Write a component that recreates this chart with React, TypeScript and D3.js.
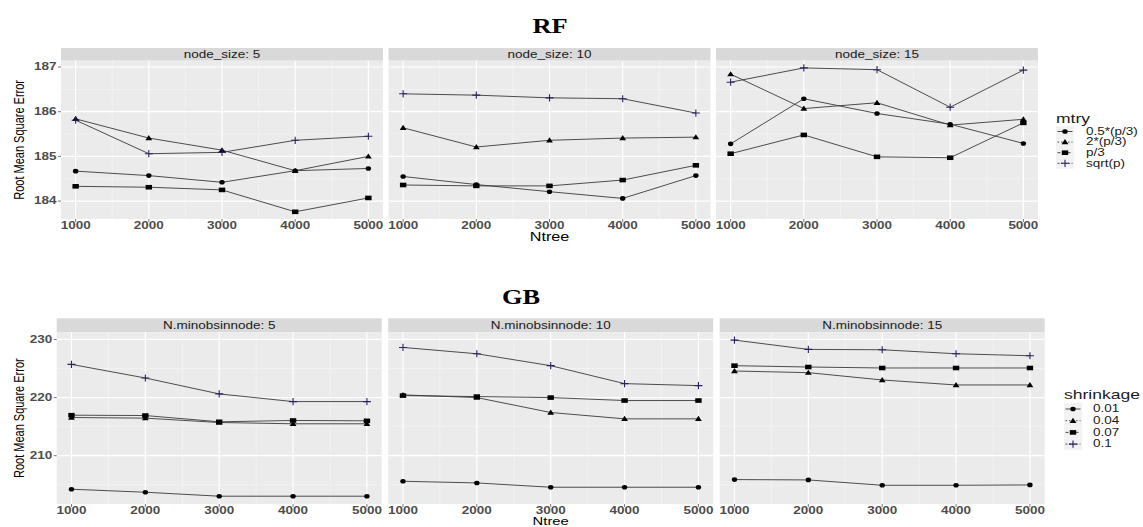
import * as d3 from 'd3';

// x values shared by all panels
const ntree = [1000, 2000, 3000, 4000, 5000];

// RF: rows follow mtry order
const rfMtry = ['0.5*(p/3)', '2*(p/3)', 'p/3', 'sqrt(p)'];
const rfNodeSizes = [5, 10, 15];
const rfNode5 = [
  [184.67, 184.57, 184.42, 184.68, 184.73],
  [185.84, 185.41, 185.14, 184.68, 185.0],
  [184.33, 184.31, 184.25, 183.76, 184.07],
  [185.81, 185.06, 185.09, 185.36, 185.45],
];
const rfNode10 = [
  [184.55, 184.37, 184.21, 184.06, 184.57],
  [185.64, 185.21, 185.36, 185.41, 185.43],
  [184.36, 184.34, 184.34, 184.47, 184.8],
  [186.4, 186.37, 186.31, 186.29, 185.97],
];
const rfNode15 = [
  [185.28, 186.29, 185.96, 185.72, 185.29],
  [186.84, 186.07, 186.2, 185.7, 185.83],
  [185.06, 185.48, 184.99, 184.97, 185.75],
  [186.66, 186.98, 186.94, 186.1, 186.93],
];
const rfYTicks = [184, 185, 186, 187];

// GB: rows follow shrinkage order
const gbShrinkage = ['0.01', '0.04', '0.07', '0.1'];
const gbMinObs = [5, 10, 15];
const gbNode5 = [
  [204.23, 203.71, 203.03, 203.03, 203.03],
  [216.57, 216.46, 215.71, 215.49, 215.49],
  [216.97, 216.91, 215.83, 216.06, 216.0],
  [225.71, 223.37, 220.63, 219.31, 219.31],
];
const gbNode10 = [
  [205.6, 205.31, 204.57, 204.57, 204.57],
  [220.46, 220.0, 217.43, 216.34, 216.34],
  [220.34, 220.17, 220.0, 219.49, 219.49],
  [228.63, 227.54, 225.49, 222.4, 222.06],
];
const gbNode15 = [
  [205.89, 205.83, 204.91, 204.91, 204.97],
  [224.57, 224.29, 223.03, 222.17, 222.17],
  [225.49, 225.26, 225.09, 225.09, 225.09],
  [229.89, 228.29, 228.23, 227.54, 227.2],
];
const gbYTicks = [210, 220, 230];

const SX = 1.35; // the source image is stretched horizontally
const sans = 'Liberation Sans, Arial, sans-serif';
const shapes = ['circle', 'triangle', 'square', 'plus'];
const dashes = [null, '1.5,2', '3,2', '2,1.5'];
const plusColor = '#2b2160';

const expand = (ext) => {
  const pad = (ext[1] - ext[0]) * 0.05;
  return [ext[0] - pad, ext[1] + pad];
};

function Stretched({ x, y, anchor = 'middle', size, weight = 'normal', fill = '#000', family = sans, children, sx = SX }) {
  return (
    <text
      transform={`translate(${x},${y}) scale(${sx},1)`}
      textAnchor={anchor}
      dominantBaseline="central"
      fontSize={size}
      fontWeight={weight}
      fill={fill}
      fontFamily={family}
    >
      {children}
    </text>
  );
}

function Marker({ shape, x, y }) {
  if (shape === 'circle') return <ellipse cx={x} cy={y} rx={2.7} ry={2.3} fill="#000" />;
  if (shape === 'square') return <rect x={x - 3.2} y={y - 2.3} width={6.4} height={4.6} fill="#000" />;
  if (shape === 'triangle')
    return <path d={`M${x},${y - 3}L${x + 3.4},${y + 2.2}L${x - 3.4},${y + 2.2}Z`} fill="#000" />;
  return (
    <path d={`M${x - 4},${y}H${x + 4}M${x},${y - 3.6}V${y + 3.6}`} stroke={plusColor} strokeWidth={1.1} />
  );
}

function Block({ title, titleX, titleY, stripPrefix, facets, panels, yTicks, geo, legendTitle, legendLabels, legend }) {
  const all = panels.flat(2);
  const y = d3.scaleLinear().domain(expand(d3.extent(all))).range([geo.bottom, geo.top]);
  const xDomain = expand(d3.extent(ntree));
  const yStep = yTicks[1] - yTicks[0];
  const yMinor = d3.range(yTicks[0] - yStep / 2, yTicks[yTicks.length - 1] + yStep, yStep)
    .filter((v) => v > y.domain()[0] && v < y.domain()[1]);
  const xMinor = [1500, 2500, 3500, 4500];
  const line = d3.line();

  return (
    <g>
      <Stretched x={titleX} y={titleY} size={22} weight="bold" family="Liberation Serif, Times New Roman, serif" sx={1.2}>
        {title}
      </Stretched>
      {panels.map((rows, i) => {
        const x0 = geo.left + i * geo.step;
        const x = d3.scaleLinear().domain(xDomain).range([x0, x0 + geo.width]);
        return (
          <g key={i}>
            <rect x={x0} y={geo.stripTop} width={geo.width} height={geo.top - geo.stripTop} fill="#d9d9d9" />
            <Stretched x={x0 + geo.width / 2} y={(geo.stripTop + geo.top) / 2} size={10} fill="#1a1a1a">
              {`${stripPrefix}: ${facets[i]}`}
            </Stretched>
            <rect x={x0} y={geo.top} width={geo.width} height={geo.bottom - geo.top} fill="#ebebeb" />
            {yMinor.map((v) => (
              <line key={'ym' + v} x1={x0} x2={x0 + geo.width} y1={y(v)} y2={y(v)} stroke="#f7f7f7" strokeWidth={0.6} />
            ))}
            {xMinor.map((v) => (
              <line key={'xm' + v} x1={x(v)} x2={x(v)} y1={geo.top} y2={geo.bottom} stroke="#f7f7f7" strokeWidth={0.6} />
            ))}
            {yTicks.map((v) => (
              <line key={'y' + v} x1={x0} x2={x0 + geo.width} y1={y(v)} y2={y(v)} stroke="#fff" strokeWidth={1.2} />
            ))}
            {ntree.map((v) => (
              <line key={'x' + v} x1={x(v)} x2={x(v)} y1={geo.top} y2={geo.bottom} stroke="#fff" strokeWidth={1.2} />
            ))}
            {rows.map((vals, s) => (
              <path
                key={'l' + s}
                d={line(vals.map((v, k) => [x(ntree[k]), y(v)]))}
                fill="none"
                stroke="#3a3a3a"
                strokeWidth={0.9}
              />
            ))}
            {rows.map((vals, s) =>
              vals.map((v, k) => <Marker key={`p${s}-${k}`} shape={shapes[s]} x={x(ntree[k])} y={y(v)} />)
            )}
            {ntree.map((v) => (
              <g key={'t' + v}>
                <line x1={x(v)} x2={x(v)} y1={geo.bottom} y2={geo.bottom + 3} stroke="#555" strokeWidth={0.8} />
                <Stretched x={x(v)} y={geo.bottom + 6.5} size={10} weight="bold" fill="#4d4d4d">
                  {v}
                </Stretched>
              </g>
            ))}
            {i === 0 &&
              yTicks.map((v) => (
                <g key={'yt' + v}>
                  <line x1={x0 - 3} x2={x0} y1={y(v)} y2={y(v)} stroke="#555" strokeWidth={0.8} />
                  <Stretched x={x0 - 4.5} y={y(v)} anchor="end" size={10} weight="bold" fill="#4d4d4d">
                    {v}
                  </Stretched>
                </g>
              ))}
          </g>
        );
      })}
      <text
        transform={`translate(${geo.yLabelX},${(geo.top + geo.bottom) / 2}) scale(${SX},1) rotate(-90)`}
        textAnchor="middle"
        dominantBaseline="central"
        fontSize={11}
        fontFamily={sans}
        fill="#000"
      >
        Root Mean Square Error
      </text>
      <Stretched x={geo.left + geo.step + geo.width / 2} y={geo.xLabelY} size={geo.xLabelSize}>
        Ntree
      </Stretched>
      <Stretched x={legend.x} y={legend.titleY} anchor="start" size={13} fill="#1a1a1a">
        {legendTitle}
      </Stretched>
      {legendLabels.map((lab, s) => {
        const cy = legend.itemY + s * legend.gap;
        const kx = legend.x;
        return (
          <g key={lab}>
            <rect x={kx} y={cy - legend.gap / 2} width={18} height={legend.gap} fill="#f2f2f2" />
            <line x1={kx + 1.5} x2={kx + 16.5} y1={cy} y2={cy} stroke="#3a3a3a" strokeWidth={0.9} strokeDasharray={dashes[s] || undefined} />
            <Marker shape={shapes[s]} x={kx + 9} y={cy} />
            <Stretched x={kx + legend.textDx} y={cy} anchor="start" size={10} fill="#1a1a1a">
              {lab}
            </Stretched>
          </g>
        );
      })}
    </g>
  );
}

export default function App() {
  const rfGeo = { left: 61, width: 322, step: 327.5, stripTop: 48, top: 60.7, bottom: 219, yLabelX: 19, xLabelY: 236.5, xLabelSize: 12 };
  const gbGeo = { left: 56.7, width: 325, step: 331.5, stripTop: 318.3, top: 332.3, bottom: 504, yLabelX: 18.5, xLabelY: 521.5, xLabelSize: 11 };
  return (
    <svg width={1143} height={527} style={{ position: 'absolute', left: 0, top: 0, background: '#fff' }}>
      <Block
        title="RF"
        titleX={550}
        titleY={25}
        stripPrefix="node_size"
        facets={rfNodeSizes}
        panels={[rfNode5, rfNode10, rfNode15]}
        yTicks={rfYTicks}
        geo={rfGeo}
        legendTitle="mtry"
        legendLabels={rfMtry}
        legend={{ x: 1056, titleY: 118, itemY: 131.5, gap: 10.6, textDx: 30 }}
      />
      <Block
        title="GB"
        titleX={521}
        titleY={296}
        stripPrefix="N.minobsinnode"
        facets={gbMinObs}
        panels={[gbNode5, gbNode10, gbNode15]}
        yTicks={gbYTicks}
        geo={gbGeo}
        legendTitle="shrinkage"
        legendLabels={gbShrinkage}
        legend={{ x: 1064, titleY: 394, itemY: 409, gap: 11.7, textDx: 29 }}
      />
    </svg>
  );
}
